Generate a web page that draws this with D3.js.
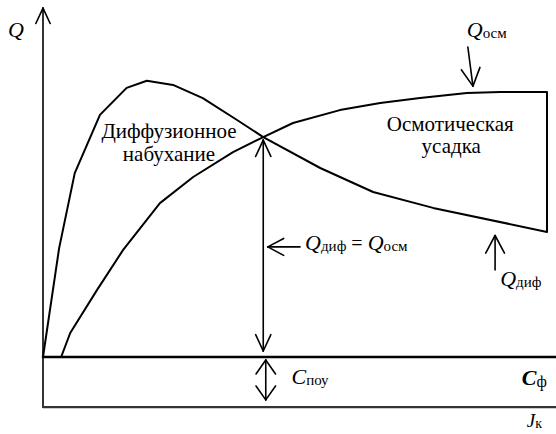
<!DOCTYPE html>
<html>
<head>
<meta charset="utf-8">
<script src="https://cdn.jsdelivr.net/npm/d3@7"></script>
<style>
body{margin:0;background:#fff;}
</style>
</head>
<body>
<svg id="chart" width="556" height="434"></svg>
<script>
//////////////////////
// data (C, Q units) //
//////////////////////
var difC=[0,0.32,0.63,1.13,1.66,2.06,2.58,3.17,3.85,4.37,5.5,6.55,7.74,10];
var difQ=[0,3.63,6.13,8.07,8.97,9.21,9.07,8.63,7.9,7.33,6.3,5.5,4.97,4.17];
var osmC=[0,0.36,0.54,1.07,1.59,2.32,2.98,3.77,4.37,4.96,5.89,6.69,7.48,8.41,9.07,10];
var osmQ=[0,0,0.8,2.23,3.57,5.13,6.0,6.83,7.33,7.8,8.23,8.47,8.63,8.8,8.83,8.83];
var cross=[4.37,7.33];           // Q_dif = Q_osm
var Jlevel=-1.67;                // lower axis (J_k)
var Qtop=11.63;                  // top of Q axis
var Cend=10.3;                   // end of C axis
var FONT="'Liberation Serif','Times New Roman',serif";

var svg=d3.select('#chart');
var x=d3.scaleLinear().domain([0,10]).range([43,547]);
var y=d3.scaleLinear().domain([0,10]).range([357,57]);

function pts(cs,qs){return cs.map(function(c,i){return [c,qs[i]];});}
var line=d3.line().x(function(d){return x(d[0]);}).y(function(d){return y(d[1]);});

function seg(a,b,w,col){
	svg.append('line').attr('x1',x(a[0])).attr('y1',y(a[1])).attr('x2',x(b[0])).attr('y2',y(b[1]))
	.attr('stroke',col||'#000').attr('stroke-width',w||1.6).attr('stroke-linecap','round');
}
// open arrow head: tip in data units, direction angle (deg, screen), size px
function head(tip,ang,len,spread){
	var tx=x(tip[0]), ty=y(tip[1]), r=ang*Math.PI/180, s=(spread||28)*Math.PI/180;
	[r+Math.PI-s,r+Math.PI+s].forEach(function(a){
		svg.append('line').attr('x1',tx).attr('y1',ty)
		.attr('x2',tx+len*Math.cos(a)).attr('y2',ty+len*Math.sin(a))
		.attr('stroke','#000').attr('stroke-width',1.6).attr('stroke-linecap','round');
	});
}
function arrow(a,b,len){
	seg(a,b);
	var ang=Math.atan2(y(b[1])-y(a[1]),x(b[0])-x(a[0]))*180/Math.PI;
	head(b,ang,len||17);
}

//////////////////////// axes
seg([0,Jlevel],[0,Qtop],1.6);
head([0,Qtop],-90,17,25);
seg([0,0],[Cend,0],2.6);
head([Cend+0.3,0],0,16,32);
seg([0,Jlevel],[Cend,Jlevel],2.2,'#333');
head([Cend+0.3,Jlevel],0,16,32);

//////////////////////// curves
svg.append('path').datum(pts(difC,difQ)).attr('d',line)
	.attr('fill','none').attr('stroke','#000').attr('stroke-width',2).attr('stroke-linejoin','round');
svg.append('path').datum(pts(osmC,osmQ)).attr('d',line)
	.attr('fill','none').attr('stroke','#000').attr('stroke-width',2).attr('stroke-linejoin','round');
// right edge closing both curves
seg([10,difQ[difQ.length-1]],[10,osmQ[osmQ.length-1]],2);

//////////////////////// annotations
// double arrow from crossing down to C axis
seg([cross[0],cross[1]-0.1],[cross[0],0.2]);
head([cross[0],cross[1]-0.1],-90,18,25);
head([cross[0],0.2],90,18,25);
// small double arrow C_poy
seg([4.42,-0.1],[4.42,-1.43]);
head([4.42,-0.1],-90,17,35);
head([4.42,-1.43],90,17,35);
// Q_dif = Q_osm pointer
arrow([5.1,3.67],[4.46,3.67],18);
// Q_osm pointer
arrow([8.43,10.33],[8.53,9.03],20);
// Q_dif pointer
arrow([8.97,2.9],[8.97,4.05],20);

//////////////////////// labels
function lab(px,py,parts,anchor){
	var t=svg.append('text').attr('x',px).attr('y',py).attr('text-anchor',anchor||'start')
		.attr('font-family',FONT).attr('fill','#000');
	parts.forEach(function(p){
		var s=t.append('tspan').text(p.t).attr('font-size',p.s||19);
		if(p.i) s.attr('font-style','italic');
		if(p.b) s.attr('font-weight','bold');
		if(p.dy) s.attr('dy',p.dy);
		if(p.dx) s.attr('dx',p.dx);
	});
	return t;
}
lab(8,37,[{t:'Q',i:1,s:22}]);
lab(x(8.41),37,[{t:'Q',i:1,s:22},{t:'осм',s:15,dy:1}]);
lab(x(9.07),286,[{t:'Q',i:1,s:22},{t:'диф',s:15,dy:1}]);
lab(x(5.2),250,[{t:'Q',i:1,s:22},{t:'диф',s:15,dy:1},{t:' = ',s:20,dy:-1},{t:'Q',i:1,s:22},{t:'осм',s:15,dy:1}]);
lab(x(4.93),384,[{t:'C',i:1,s:22},{t:'поу',s:15,dy:1}]);
lab(x(9.5),385,[{t:'C',i:1,b:1,s:22},{t:'ф',s:16,dy:2}]);
lab(x(9.6),427,[{t:'J',i:1,s:19},{t:'к',s:14,dy:1}]);

lab(x(2.5),138,[{t:'Диффузионное',s:21}],'middle');
lab(x(2.5),161,[{t:'набухание',s:21}],'middle');
lab(x(8.08),131,[{t:'Осмотическая',s:21}],'middle');
lab(x(8.1),153,[{t:'усадка',s:21}],'middle');
</script>
</body>
</html>
